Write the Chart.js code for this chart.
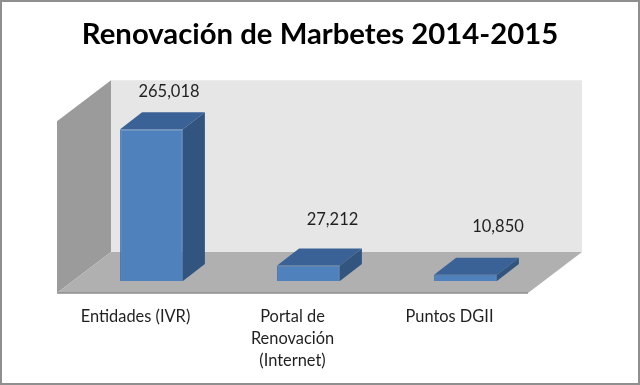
<!DOCTYPE html>
<html><head><meta charset="utf-8">
<style>html,body{margin:0;padding:0;background:#fff}canvas{display:block}</style>
<script src="https://cdn.jsdelivr.net/npm/chart.js@4"></script>
</head><body><canvas id="c" width="640" height="385"></canvas>
<script>
const categories = [["Entidades (IVR)"], ["Portal de", "Renovación", "(Internet)"], ["Puntos DGII"]];
const values = [265018, 27212, 10850];
const titleText = "Renovación de Marbetes 2014-2015";
const yMax = 300000;

const WALL = {dx: 54, dy: 41};
const SHIFT = {dx: 16, dy: -12};
const BAR = {dx: 22, dy: 17};
const LABEL_OFFSET = [{x: 17.5, y: -38}, {x: 24, y: -45.5}, {x: 32.5, y: -48}];

function poly(ctx, pts, fill) {
  ctx.beginPath();
  pts.forEach((p, i) => i ? ctx.lineTo(p[0], p[1]) : ctx.moveTo(p[0], p[1]));
  ctx.closePath();
  ctx.fillStyle = fill;
  ctx.fill();
}

const box3d = {
  id: 'box3d',
  beforeDatasetsDraw(chart) {
    const {ctx, chartArea: a} = chart;
    const l = a.left, r = a.right, t = a.top, b = a.bottom;
    const dx = WALL.dx, dy = WALL.dy;
    poly(ctx, [[l + dx, t - dy], [r + dx, t - dy], [r + dx, b - dy], [l + dx, b - dy]], '#e6e6e6');
    poly(ctx, [[l, t], [l + dx, t - dy], [l + dx, b - dy], [l, b]], '#9b9b9b');
    poly(ctx, [[l, b], [l + dx, b - dy], [r + dx, b - dy], [r, b]], '#b0b0b0');
    ctx.strokeStyle = '#8e8e8e';
    ctx.lineWidth = 1.5;
    ctx.beginPath();
    ctx.moveTo(l, b); ctx.lineTo(r, b);
    ctx.stroke();
    ctx.save();
    ctx.translate(SHIFT.dx, SHIFT.dy);
    chart.getDatasetMeta(0).data.forEach(el => {
      const x0 = el.x - el.width / 2, x1 = el.x + el.width / 2, y = el.y, base = el.base;
      poly(ctx, [[x0, y], [x0 + BAR.dx, y - BAR.dy], [x1 + BAR.dx, y - BAR.dy], [x1, y]], '#3a6296');
      poly(ctx, [[x1, y], [x1 + BAR.dx, y - BAR.dy], [x1 + BAR.dx, base - BAR.dy], [x1, base]], '#32557f');
    });
  },
  afterDatasetsDraw(chart) {
    const {ctx} = chart;
    ctx.restore();
    ctx.save();
    ctx.fillStyle = '#1f1f1f';
    ctx.font = '16.5px Lato';
    ctx.textAlign = 'center';
    ctx.textBaseline = 'middle';
    chart.getDatasetMeta(0).data.forEach((el, i) => {
      const o = LABEL_OFFSET[i];
      ctx.fillText(values[i].toLocaleString('en-US'), el.x + SHIFT.dx + o.x, el.y + SHIFT.dy + o.y);
    });
    ctx.restore();
  },
  afterDraw(chart) {
    const {ctx, width, height} = chart;
    ctx.save();
    ctx.strokeStyle = '#8f8f8f';
    ctx.lineWidth = 2;
    ctx.strokeRect(1, 1, width - 2, height - 2);
    ctx.restore();
  }
};

new Chart(document.getElementById('c'), {
  type: 'bar',
  data: {
    labels: categories,
    datasets: [{
      data: values,
      backgroundColor: '#4f81bd',
      borderColor: '#3d6ea6',
      borderWidth: 1,
      barPercentage: 0.4,
      categoryPercentage: 1,
      clip: false
    }]
  },
  options: {
    responsive: false,
    animation: false,
    layout: {padding: 0},
    plugins: {
      legend: {display: false},
      tooltip: {enabled: false},
      title: {
        display: true,
        text: titleText,
        color: '#000',
        font: {family: 'Lato', size: 29.3, weight: 'bold', lineHeight: 1.2},
        padding: {top: 17, bottom: 69}
      }
    },
    scales: {
      x: {
        grid: {display: false},
        border: {display: false},
        afterFit(s) { s.height = 92; },
        ticks: {
          color: '#1f1f1f',
          font: {family: 'Lato', size: 16.4, lineHeight: 1.34},
          padding: 5,
          maxRotation: 0,
          autoSkip: false
        }
      },
      y: {
        min: 0, max: yMax,
        grid: {display: false},
        border: {display: false},
        ticks: {display: false},
        afterFit(s) { s.width = 57; }
      },
      yRight: {
        position: 'right',
        min: 0, max: yMax,
        grid: {display: false},
        border: {display: false},
        ticks: {display: false},
        afterFit(s) { s.width = 112; }
      }
    }
  },
  plugins: [box3d]
});
</script></body></html>
